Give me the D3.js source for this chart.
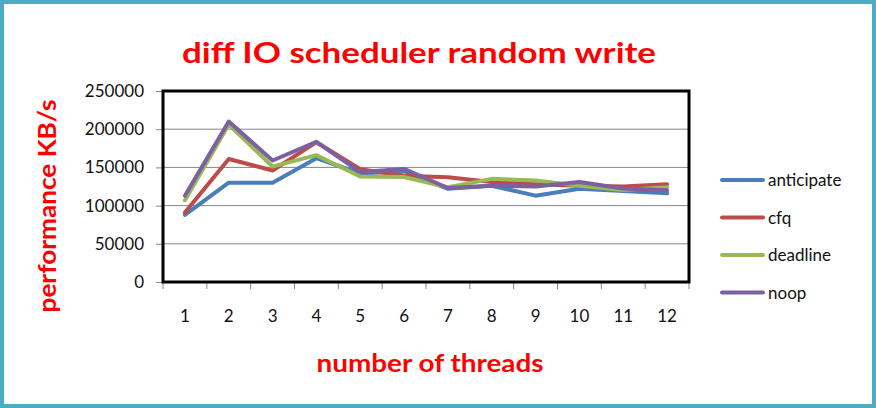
<!DOCTYPE html>
<html>
<head>
<meta charset="utf-8">
<script src="https://cdn.jsdelivr.net/npm/d3@7"></script>
<style>
  html, body { margin: 0; padding: 0; background: #fff; }
  svg { display: block; }
  text { font-family: Lato, "Open Sans", "DejaVu Sans", sans-serif; }
</style>
</head>
<body>
<svg id="chart" width="876" height="408"></svg>
<script>
// Thread counts on the x axis
const threads = ["1", "2", "3", "4", "5", "6", "7", "8", "9", "10", "11", "12"];

// Random-write throughput (KB/s) per IO scheduler
const anticipate = [88000, 130000, 130000, 162000, 142000, 145000, 122000, 126000, 113000, 122000, 119000, 116000];
const cfq        = [91000, 161000, 146000, 183000, 147500, 139000, 137000, 131000, 128000, 126000, 125000, 128000];
const deadline   = [107000, 206000, 151000, 166000, 138000, 137500, 124000, 135000, 133000, 126000, 120500, 124000];
const noop       = [113000, 210000, 159000, 183500, 144000, 148000, 123000, 126000, 125000, 131000, 122500, 120000];

const seriesNames = ["anticipate", "cfq", "deadline", "noop"];
const yTicks = [0, 50000, 100000, 150000, 200000, 250000];

const series = [
  { name: seriesNames[0], values: anticipate, color: "#4A7EBB" },
  { name: seriesNames[1], values: cfq,        color: "#BE4B48" },
  { name: seriesNames[2], values: deadline,   color: "#98B954" },
  { name: seriesNames[3], values: noop,       color: "#7D60A0" }
];

const svg = d3.select("#chart");
const W = 876, H = 408;
const plot = { left: 163, right: 689, top: 91, bottom: 282 };

// outer frame
svg.append("rect")
  .attr("x", 2).attr("y", 2).attr("width", W - 4).attr("height", H - 4)
  .attr("fill", "#fff").attr("stroke", "#4BACC6").attr("stroke-width", 4);

const x = d3.scaleBand().domain(threads).range([plot.left, plot.right]).padding(0);
const y = d3.scaleLinear().domain([0, 250000]).range([plot.bottom, plot.top]);

// horizontal gridlines
svg.append("g")
  .selectAll("line")
  .data(yTicks.slice(1, -1))
  .join("line")
  .attr("x1", plot.left).attr("x2", plot.right)
  .attr("y1", d => y(d)).attr("y2", d => y(d))
  .attr("stroke", "#868686").attr("stroke-width", 1);

// y axis: ticks and labels
const yAxis = svg.append("g")
  .attr("transform", `translate(${plot.left},0)`)
  .call(d3.axisLeft(y).tickValues(yTicks).tickSize(7).tickPadding(12).tickFormat(d3.format("d")));
yAxis.select(".domain").remove();
yAxis.selectAll(".tick line").attr("stroke", "#868686");
yAxis.selectAll(".tick text")
  .attr("font-size", 17).attr("fill", "#111")
  .style("font-family", "Lato, 'Open Sans', sans-serif");

// x axis: tick marks between categories, labels centred below
const boundaries = threads.map(t => x(t)).concat([x(threads[threads.length - 1]) + x.bandwidth()]);
svg.append("g")
  .selectAll("line")
  .data(boundaries)
  .join("line")
  .attr("x1", d => d).attr("x2", d => d)
  .attr("y1", plot.bottom).attr("y2", plot.bottom + 7)
  .attr("stroke", "#868686").attr("stroke-width", 1);

svg.append("g")
  .selectAll("text")
  .data(threads)
  .join("text")
  .attr("x", d => x(d) + x.bandwidth() / 2)
  .attr("y", 322)
  .attr("text-anchor", "middle")
  .attr("font-size", 17).attr("fill", "#111")
  .text(d => d);

// plot area border
svg.append("rect")
  .attr("x", plot.left).attr("y", plot.top)
  .attr("width", plot.right - plot.left).attr("height", plot.bottom - plot.top)
  .attr("fill", "none").attr("stroke", "#000").attr("stroke-width", 3);

// series lines
const line = d3.line()
  .x((d, i) => x(threads[i]) + x.bandwidth() / 2)
  .y(d => y(d));

svg.append("g")
  .selectAll("path")
  .data(series)
  .join("path")
  .attr("d", d => line(d.values))
  .attr("fill", "none")
  .attr("stroke", d => d.color)
  .attr("stroke-width", 4)
  .attr("stroke-linejoin", "round")
  .attr("stroke-linecap", "round");

// legend
const legend = svg.append("g").attr("transform", "translate(722,180)");
const item = legend.selectAll("g")
  .data(series)
  .join("g")
  .attr("transform", (d, i) => `translate(0,${i * 37.5})`);
item.append("line")
  .attr("x1", 0).attr("x2", 41).attr("y1", 0).attr("y2", 0)
  .attr("stroke", d => d.color).attr("stroke-width", 4).attr("stroke-linecap", "round");
item.append("text")
  .attr("x", 46).attr("y", 6)
  .attr("font-size", 17).attr("fill", "#111")
  .text(d => d.name);

// titles
svg.append("text")
  .attr("x", 419).attr("y", 63)
  .attr("text-anchor", "middle")
  .attr("font-size", 29).attr("font-weight", "bold").attr("fill", "#FF0000")
  .attr("textLength", 474).attr("lengthAdjust", "spacingAndGlyphs")
  .text("diff IO scheduler random write");

svg.append("text")
  .attr("transform", "translate(56,206) rotate(-90)")
  .attr("text-anchor", "middle")
  .attr("font-size", 24).attr("font-weight", "bold").attr("fill", "#FF0000")
  .attr("textLength", 213).attr("lengthAdjust", "spacingAndGlyphs")
  .text("performance KB/s");

svg.append("text")
  .attr("x", 430).attr("y", 372)
  .attr("text-anchor", "middle")
  .attr("font-size", 24).attr("font-weight", "bold").attr("fill", "#FF0000")
  .attr("textLength", 227).attr("lengthAdjust", "spacingAndGlyphs")
  .text("number of threads");
</script>
</body>
</html>
